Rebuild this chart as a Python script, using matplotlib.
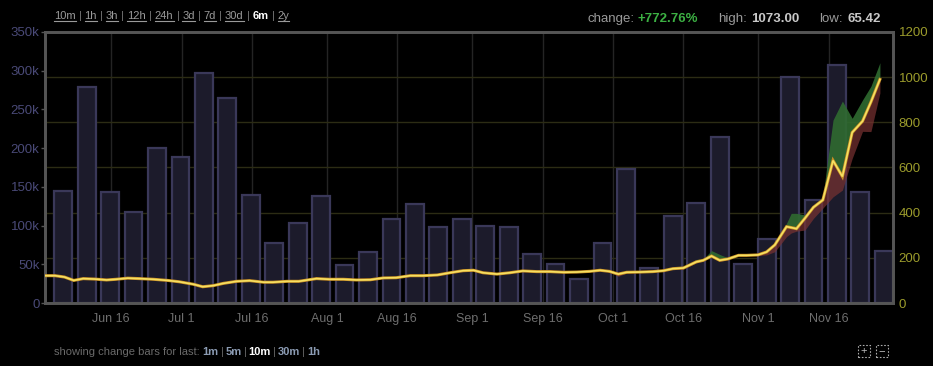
import pandas as pd
import matplotlib
matplotlib.use('Agg')
import matplotlib.pyplot as plt
from matplotlib.lines import Line2D
from matplotlib.patches import Rectangle
from matplotlib.ticker import FuncFormatter
from matplotlib.transforms import blended_transform_factory

plt.rcParams['font.family'] = ['Liberation Sans', 'DejaVu Sans']

# volume bars, one every 5 days (thousands)
bar_start = '2013-06-05 18:00'
bar_volume = [145, 279, 144, 117, 200, 188, 297, 265, 139, 78, 103, 138,
              49, 66, 108, 128, 98, 109, 99, 98, 63, 51, 31, 78,
              173, 45, 112, 129, 215, 50, 83, 292, 133, 307, 143, 67]

# price line with high / low envelope
price_dates = ['2013-06-01 20:00', '2013-06-04', '2013-06-06', '2013-06-08', '2013-06-10',
               '2013-06-12 12:00', '2013-06-15', '2013-06-17', '2013-06-19 12:00', '2013-06-22',
               '2013-06-25', '2013-06-28', '2013-06-30 12:00', '2013-07-03 12:00', '2013-07-05 12:00',
               '2013-07-07 18:00', '2013-07-09 22:00', '2013-07-12 18:00', '2013-07-15 12:00',
               '2013-07-18 12:00', '2013-07-20 12:00', '2013-07-23 12:00', '2013-07-26',
               '2013-07-29 18:00', '2013-08-01 12:00', '2013-08-04 12:00', '2013-08-07 06:00',
               '2013-08-10 06:00', '2013-08-13', '2013-08-15 18:00', '2013-08-18 18:00',
               '2013-08-21 12:00', '2013-08-24 12:00', '2013-08-27 06:00', '2013-08-30',
               '2013-09-01 06:00', '2013-09-03 06:00', '2013-09-06 06:00', '2013-09-09',
               '2013-09-11 18:00', '2013-09-14 18:00', '2013-09-17 12:00', '2013-09-20 12:00',
               '2013-09-23 06:00', '2013-09-26', '2013-09-28 06:00', '2013-09-30 06:00',
               '2013-10-02 03:00', '2013-10-03 22:00', '2013-10-06 18:00', '2013-10-09 12:00',
               '2013-10-11 18:00', '2013-10-13 18:00', '2013-10-16', '2013-10-18 18:00',
               '2013-10-20 06:00', '2013-10-22', '2013-10-23 18:00', '2013-10-25 12:00',
               '2013-10-27 18:00', '2013-10-29 12:00', '2013-10-31 22:00', '2013-11-02 18:00',
               '2013-11-04 12:00', '2013-11-07', '2013-11-08', '2013-11-09 03:00',
               '2013-11-10 22:00', '2013-11-12 18:00', '2013-11-14 18:00', '2013-11-16 22:00',
               '2013-11-18 22:00', '2013-11-21', '2013-11-23 05:00', '2013-11-25', '2013-11-26 22:00']
price = [121, 121, 115, 100, 108, 106, 102, 105, 110, 108, 105, 100, 94, 83, 72,
         77, 87, 96, 99, 92, 92, 96, 96, 108, 105, 105, 102, 103, 111, 112, 121,
         121, 124, 134, 143, 145, 134, 128, 134, 142, 139, 139, 136, 137, 140, 145, 140,
         128, 136, 137, 139, 143, 152, 155, 182, 189, 208, 189, 195, 211, 211, 213, 226,
         257, 338, 334, 329, 375, 424, 456, 631, 560, 755, 805, 890, 990]
high = [122, 122, 118, 103, 109, 107, 103, 106, 111, 109, 106, 101, 96, 86, 75,
        78, 88, 97, 100, 93, 93, 97, 97, 109, 106, 106, 103, 104, 112, 113, 122,
        122, 125, 135, 145, 146, 137, 130, 136, 143, 140, 140, 137, 138, 141, 146, 141,
        131, 137, 138, 140, 144, 153, 156, 193, 195, 232, 215, 200, 212, 212, 214, 227,
        258, 353, 397, 397, 390, 430, 471, 810, 894, 818, 899, 960, 1064]
low = [119, 119, 113, 99, 106, 105, 101, 104, 109, 107, 104, 99, 93, 82, 70,
       75, 84, 94, 98, 91, 91, 95, 95, 106, 104, 104, 101, 102, 109, 110, 119,
       120, 122, 132, 141, 143, 133, 126, 133, 140, 137, 138, 135, 136, 139, 143, 138,
       118, 133, 135, 138, 141, 150, 150, 178, 186, 205, 185, 192, 209, 209, 210, 213,
       227, 294, 310, 318, 323, 375, 420, 470, 500, 640, 760, 759, 930]

date_ticks = ['2013-06-16', '2013-07-01', '2013-07-16', '2013-08-01', '2013-08-16', '2013-09-01',
              '2013-09-16', '2013-10-01', '2013-10-16', '2013-11-01', '2013-11-16']
date_labels = ['Jun 16', 'Jul 1', 'Jul 16', 'Aug 1', 'Aug 16', 'Sep 1',
               'Sep 16', 'Oct 1', 'Oct 16', 'Nov 1', 'Nov 16']
vol_ticks = [0, 50, 100, 150, 200, 250, 300, 350]
price_ticks = [0, 200, 400, 600, 800, 1000, 1200]

W, H = 933, 366
fig = plt.figure(figsize=(W / 100, H / 100), dpi=100, facecolor='black')
ax = fig.add_axes([45 / W, 1 - 303 / H, 848 / W, 271 / H])
ax2 = ax.twinx()
ax.set_zorder(0)
ax2.set_zorder(1)
ax.set_facecolor('black')
ax2.patch.set_visible(False)

bar_dates = pd.date_range(bar_start, periods=len(bar_volume), freq='5D')
ax.bar(bar_dates, [v * 1000 for v in bar_volume], width=3.8, color='#1c1b2b',
       edgecolor='#3a3859', linewidth=1.6, zorder=2)

pd_dates = pd.to_datetime(price_dates, format='ISO8601')
ax2.fill_between(pd_dates, price, high, color='#2f6b30', alpha=0.9, lw=0, zorder=2)
ax2.fill_between(pd_dates, low, price, color='#7a3232', alpha=0.7, lw=0, zorder=2)
ax2.plot(pd_dates, price, color='#c98f25', lw=2.2, zorder=3, solid_joinstyle='miter')
ax2.plot(pd_dates, price, color='#f5e062', lw=1.2, zorder=4, solid_joinstyle='miter')

ax.set_xlim(pd.Timestamp('2013-06-01 20:40'), pd.Timestamp('2013-11-29 17:00'))
ax.set_ylim(0, 350000)
ax2.set_ylim(0, 1200)

ax.set_xticks(pd.to_datetime(date_ticks))
ax.set_xticklabels(date_labels)
ax.set_yticks([v * 1000 for v in vol_ticks])
ax.yaxis.set_major_formatter(FuncFormatter(lambda v, p: '0' if v == 0 else f'{int(v / 1000)}k'))
ax2.set_yticks(price_ticks)

# vertical grid from dates, horizontal grid from price ticks, both behind the bars
ax.grid(axis='x', color='#242424', lw=1)
ax.set_axisbelow(True)
grid_tr = blended_transform_factory(ax.transAxes, ax2.transData)
for p in price_ticks[1:-1]:
    ax.add_line(Line2D([0, 1], [p, p], transform=grid_tr, color='#2c2c14', lw=1, zorder=0.6))

for a in (ax, ax2):
    for s in a.spines.values():
        s.set_color('#555555')
        s.set_linewidth(2)
ax.tick_params(axis='x', length=0, pad=7, labelsize=9, labelcolor='#6e6e6e')
ax.tick_params(axis='y', length=3, width=1, color='#555555', pad=1, labelsize=9.5,
               labelcolor='#4a4a78')
ax2.tick_params(axis='y', length=0, pad=4, labelsize=9.5, labelcolor='#9c9c2c')

renderer = fig.canvas.get_renderer()


def row(x, y, pieces, size):
    for s, color, bold, ul, gap in pieces:
        t = fig.text(x / W, 1 - y / H, s, fontsize=size, color=color,
                     fontweight='bold' if bold else 'normal', va='baseline', ha='left')
        bb = t.get_window_extent(renderer)
        if ul:
            fig.add_artist(Line2D([bb.x0 / W, bb.x1 / W], [(H - y - 2) / H] * 2,
                                  transform=fig.transFigure, color=color, lw=0.8))
        x += bb.width + gap


links = ['10m', '1h', '3h', '12h', '24h', '3d', '7d', '30d', '6m', '2y']
top = []
for i, lab in enumerate(links):
    if lab == '6m':
        top.append((lab, 'white', True, False, 3))
    else:
        top.append((lab, '#9a9a9a', False, True, 3))
    if i < len(links) - 1:
        top.append(('|', '#777777', False, False, 3))
row(54, 19, top, 8)

row(587, 22, [('change:', '#9a9a9a', False, False, 4), ('+772.76%', '#3cb043', True, False, 20),
              ('high:', '#9a9a9a', False, False, 4), ('1073.00', '#c8c8c8', True, False, 20),
              ('low:', '#9a9a9a', False, False, 4), ('65.42', '#c8c8c8', True, False, 0)], 9.5)

bottom = [('showing change bars for last:', '#6a6a6a', False, False, 3)]
for i, lab in enumerate(['1m', '5m', '10m', '30m', '1h']):
    bottom.append((lab, 'white' if lab == '10m' else '#8c9cb4', True, False, 2))
    if i < 4:
        bottom.append(('|', '#666666', False, False, 2))
row(54, 355, bottom, 8.0)

for x0, sym in ((858, '+'), (876, '\u2212')):
    fig.add_artist(Rectangle((x0 / W, 1 - 357 / H), 12 / W, 12 / H, transform=fig.transFigure,
                             fill=False, ec='#aaaaaa', lw=0.8, ls=(0, (1.5, 1.5))))
    fig.text((x0 + 6) / W, 1 - 351 / H, sym, color='#bbbbbb', fontsize=8,
             ha='center', va='center')

fig.savefig('out.png', dpi=100, facecolor='black')
